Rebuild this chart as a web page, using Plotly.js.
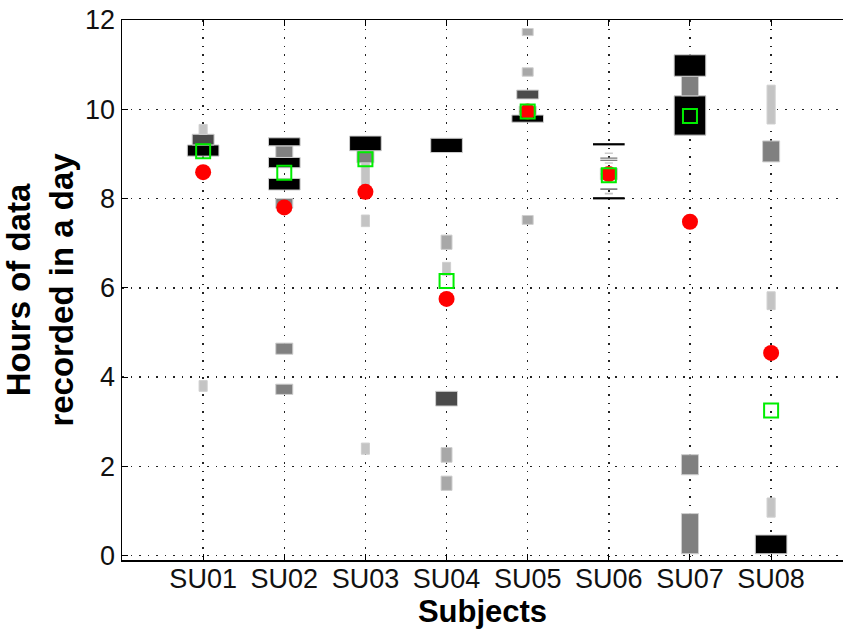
<!DOCTYPE html>
<html>
<head>
<meta charset="utf-8">
<script src="https://cdn.plot.ly/plotly-3.0.1.min.js"></script>
<style>html,body{margin:0;padding:0;background:#fff;overflow:hidden}#chart{width:843px;height:640px}</style>
</head>
<body>
<div id="chart"></div>
<script>
// Subjects (x categories)
const subjects = ['SU01', 'SU02', 'SU03', 'SU04', 'SU05', 'SU06', 'SU07', 'SU08'];
const yTicks = [0, 2, 4, 6, 8, 10, 12];

// Histogram bins per subject: subject index (1-based), bin low, bin high, frequency level (1..5)
const binSubject = [
  1, 1, 1, 1,
  2, 2, 2, 2, 2, 2, 2,
  3, 3, 3, 3, 3,
  4, 4, 4, 4, 4, 4,
  5, 5, 5, 5, 5, 5,
  6, 6, 6, 6, 6, 6, 6, 6, 6,
  7, 7, 7, 7, 7,
  8, 8, 8, 8, 8
];
const binLow = [
  3.68, 8.95, 9.20, 9.44,
  3.61, 4.51, 7.78, 8.19, 8.69, 8.92, 9.18,
  2.27, 7.37, 8.30, 8.80, 9.07,
  1.46, 2.09, 3.35, 6.28, 6.86, 9.03,
  7.42, 9.71, 9.87, 10.23, 10.74, 11.65,
  7.98, 8.09, 8.19, 8.42, 8.78, 8.84, 8.89, 9.00, 9.19,
  0.04, 1.81, 9.42, 10.30, 10.74,
  0.04, 0.86, 5.51, 8.82, 9.67
];
const binHigh = [
  3.92, 9.20, 9.44, 9.66,
  3.84, 4.76, 8.00, 8.45, 8.92, 9.18, 9.36,
  2.52, 7.63, 8.80, 9.07, 9.40,
  1.78, 2.42, 3.68, 6.57, 7.18, 9.35,
  7.62, 9.87, 10.07, 10.43, 10.93, 11.81,
  8.03, 8.13, 8.23, 8.68, 8.81, 8.87, 8.92, 9.03, 9.24,
  0.94, 2.26, 10.30, 10.74, 11.22,
  0.46, 1.29, 5.91, 9.29, 10.54
];
const binLevel = [
  1, 5, 4, 1,
  3, 3, 3, 5, 5, 3, 5,
  1, 1, 1, 3, 5,
  2, 2, 4, 1, 2, 5,
  2, 5, 3, 4, 2, 2,
  5, 1, 3, 3, 1, 3, 3, 1, 5,
  3, 3, 5, 3, 5,
  5, 1, 1, 3, 1
];

// Summary statistics per subject
const meanHours   = [8.59, 7.80, 8.15, 5.75, 9.95, 8.55, 7.48, 4.54];
const medianHours = [9.06, 8.58, 8.88, 6.15, 9.95, 8.52, 9.85, 3.25];

// ---- styling (derived from frequency level) ----
const levelColor = {1: '#c4c4c4', 2: '#a8a8a8', 3: '#808080', 4: '#4a4a4a', 5: '#000000'};
const levelWidth = {1: 0.10, 2: 0.135, 3: 0.21, 4: 0.27, 5: 0.39};

const xIdx = subjects.map((s, i) => i + 1);

const bars = {
  type: 'bar',
  x: binSubject,
  base: binLow,
  y: binHigh.map((h, i) => h - binLow[i]),
  width: binLevel.map(l => levelWidth[l]),
  marker: {
    color: binLevel.map(l => levelColor[l]),
    line: {color: '#cfcfcf', width: binHigh.map((h, i) => (h - binLow[i]) < 0.1 ? 0 : 1)}
  },
  hoverinfo: 'skip',
  showlegend: false
};

const means = {
  type: 'scatter', mode: 'markers',
  x: xIdx, y: meanHours,
  marker: {symbol: 'circle', size: 16, color: '#ff0000'},
  showlegend: false, hoverinfo: 'skip'
};

const medians = {
  type: 'scatter', mode: 'markers',
  x: xIdx, y: medianHours,
  marker: {symbol: 'square-open', size: 14, color: '#00ee00', line: {width: 2, color: '#00ee00'}},
  showlegend: false, hoverinfo: 'skip'
};

const tickFont = {family: 'Liberation Sans, Arial, sans-serif', size: 27, color: '#111'};
const xTitleFont = {family: 'Liberation Sans, Arial, sans-serif', size: 31, color: '#000', weight: 'bold'};
const yTitleFont = {family: 'Liberation Sans, Arial, sans-serif', size: 33, color: '#000', weight: 'bold'};

const layout = {
  width: 843, height: 640,
  margin: {l: 122, r: 0, t: 20, b: 80},
  paper_bgcolor: '#fff', plot_bgcolor: '#fff',
  barmode: 'overlay',
  bargap: 0,
  xaxis: {
    range: [0, 8.886],
    tickmode: 'array', tickvals: xIdx, ticktext: subjects,
    ticks: 'inside', ticklen: 6, tickcolor: '#000', tickwidth: 1,
    ticklabelstandoff: -6,
    showline: true, linecolor: '#000', linewidth: 1.5, mirror: 'allticks',
    showgrid: true, gridcolor: '#222', gridwidth: 1.5, griddash: '1.5px,7px',
    zeroline: false,
    tickfont: tickFont,
    title: {text: 'Subjects', font: xTitleFont, standoff: 4},
    automargin: false
  },
  yaxis: {
    range: [-0.1, 12],
    tickmode: 'array', tickvals: yTicks,
    ticks: 'inside', ticklen: 6, tickcolor: '#000', tickwidth: 1,
    showline: true, linecolor: '#000', linewidth: 1.5, mirror: false,
    showgrid: true, gridcolor: '#222', gridwidth: 1.5, griddash: '1.5px,7px',
    zeroline: false,
    tickfont: tickFont,
    title: {text: 'Hours of data<br>recorded in a day', font: yTitleFont, standoff: 4},
    automargin: false
  },
  font: {family: 'Liberation Sans, Arial, sans-serif', color: '#000'}
};

Plotly.newPlot('chart', [bars, means, medians], layout, {displayModeBar: false, staticPlot: true});
</script>
</body>
</html>
